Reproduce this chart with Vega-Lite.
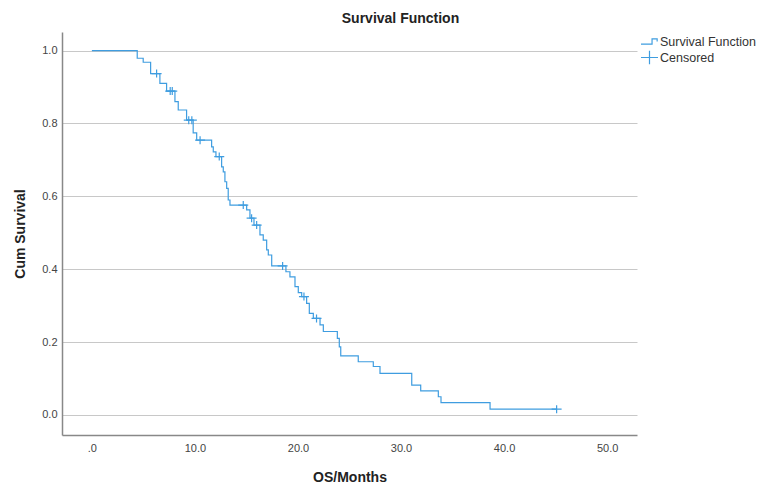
{
  "$schema": "https://vega.github.io/schema/vega-lite/v6.json",
  "width": 575,
  "height": 403,
  "autosize": {"type": "none"},
  "padding": {"left": 62, "top": 32, "right": 128, "bottom": 53},
  "background": "white",
  "config": {"view": {"stroke": null}, "font": "Liberation Sans"},
  "title": {"text": "Survival Function", "fontSize": 14, "fontWeight": "bold", "font": "Liberation Sans", "color": "#222222", "anchor": "middle", "dx": 51, "dy": 15, "offset": 10, "baseline": "alphabetic"},
  "datasets": {
    "curve": [
      {"t": 0, "s": 1.0},
      {"t": 4.40, "s": 0.979},
      {"t": 4.98, "s": 0.968},
      {"t": 5.70, "s": 0.937},
      {"t": 6.60, "s": 0.910},
      {"t": 7.25, "s": 0.889},
      {"t": 8.06, "s": 0.860},
      {"t": 8.38, "s": 0.837},
      {"t": 9.19, "s": 0.809},
      {"t": 9.83, "s": 0.774},
      {"t": 10.17, "s": 0.754},
      {"t": 11.62, "s": 0.736},
      {"t": 11.78, "s": 0.722},
      {"t": 12.04, "s": 0.709},
      {"t": 12.59, "s": 0.681},
      {"t": 12.75, "s": 0.667},
      {"t": 12.91, "s": 0.640},
      {"t": 13.08, "s": 0.622},
      {"t": 13.23, "s": 0.590},
      {"t": 13.40, "s": 0.576},
      {"t": 15.02, "s": 0.563},
      {"t": 15.34, "s": 0.540},
      {"t": 15.73, "s": 0.521},
      {"t": 16.31, "s": 0.494},
      {"t": 16.63, "s": 0.480},
      {"t": 16.96, "s": 0.453},
      {"t": 17.12, "s": 0.439},
      {"t": 17.45, "s": 0.409},
      {"t": 18.83, "s": 0.393},
      {"t": 19.22, "s": 0.379},
      {"t": 19.71, "s": 0.352},
      {"t": 20.03, "s": 0.336},
      {"t": 20.36, "s": 0.325},
      {"t": 20.84, "s": 0.306},
      {"t": 21.10, "s": 0.279},
      {"t": 21.49, "s": 0.265},
      {"t": 22.14, "s": 0.247},
      {"t": 22.46, "s": 0.229},
      {"t": 23.82, "s": 0.210},
      {"t": 24.01, "s": 0.187},
      {"t": 24.15, "s": 0.162},
      {"t": 25.85, "s": 0.146},
      {"t": 27.31, "s": 0.133},
      {"t": 27.96, "s": 0.114},
      {"t": 31.04, "s": 0.082},
      {"t": 31.91, "s": 0.066},
      {"t": 33.62, "s": 0.050},
      {"t": 33.88, "s": 0.034},
      {"t": 38.64, "s": 0.016},
      {"t": 45.10, "s": 0.016}
    ],
    "censored": [
      {"t": 6.28, "s": 0.937, "series": "Censored"},
      {"t": 7.60, "s": 0.889, "series": "Censored"},
      {"t": 7.80, "s": 0.889, "series": "Censored"},
      {"t": 9.40, "s": 0.809, "series": "Censored"},
      {"t": 9.70, "s": 0.809, "series": "Censored"},
      {"t": 10.50, "s": 0.754, "series": "Censored"},
      {"t": 12.36, "s": 0.709, "series": "Censored"},
      {"t": 14.69, "s": 0.576, "series": "Censored"},
      {"t": 15.50, "s": 0.540, "series": "Censored"},
      {"t": 15.99, "s": 0.521, "series": "Censored"},
      {"t": 18.51, "s": 0.409, "series": "Censored"},
      {"t": 20.58, "s": 0.325, "series": "Censored"},
      {"t": 21.80, "s": 0.265, "series": "Censored"},
      {"t": 45.10, "s": 0.016, "series": "Censored"}
    ]
  },
  "layer": [
    {
      "data": {"name": "curve"},
      "mark": {"type": "line", "interpolate": "step-after", "color": "#3f9de0", "strokeWidth": 1.2},
      "encoding": {
        "x": {
          "field": "t", "type": "quantitative",
          "scale": {"domain": [-2.9, 52.9], "nice": false, "zero": false},
          "axis": {
            "values": [0, 10, 20, 30, 40, 50],
            "labelExpr": "datum.value == 0 ? '.0' : format(datum.value, '.1f')",
            "ticks": false, "grid": false,
            "domainColor": "#888888", "domainWidth": 1.5,
            "labelColor": "#444444", "labelFontSize": 11, "labelFont": "Liberation Sans", "labelPadding": 7,
            "title": "OS/Months", "titleFontSize": 14, "titleFontWeight": "bold", "titleColor": "#222222", "titleFont": "Liberation Sans", "titlePadding": 17
          }
        },
        "y": {
          "field": "s", "type": "quantitative",
          "scale": {"domain": [-0.055, 1.051], "nice": false, "zero": false},
          "axis": {
            "values": [0, 0.2, 0.4, 0.6, 0.8, 1.0],
            "format": ".1f",
            "ticks": false, "grid": true, "gridColor": "#c8c8c8", "gridWidth": 1,
            "domainColor": "#888888", "domainWidth": 1.5,
            "labelColor": "#444444", "labelFontSize": 11, "labelFont": "Liberation Sans", "labelPadding": 5,
            "title": "Cum Survival", "titleFontSize": 14, "titleFontWeight": "bold", "titleColor": "#222222", "titleFont": "Liberation Sans", "titlePadding": 14
          }
        }
      }
    },
    {
      "data": {"name": "censored"},
      "mark": {"type": "point", "filled": false, "strokeWidth": 1.2, "size": 100, "color": "#3f9de0", "opacity": 1},
      "encoding": {
        "x": {"field": "t", "type": "quantitative"},
        "y": {"field": "s", "type": "quantitative"},
        "shape": {
          "field": "series", "type": "nominal",
          "scale": {"domain": ["Survival Function", "Censored"], "range": ["M-1,0.3L0.3,0.3L0.3,-0.3L0.9,-0.3L0.9,0", "M-1,0L1,0M0,-0.8L0,0.8"]},
          "legend": {
            "orient": "none", "legendX": 578, "legendY": 0, "title": null,
            "symbolSize": 289, "symbolStrokeColor": "#3f9de0", "symbolFillColor": "transparent", "symbolStrokeWidth": 1.2,
            "labelFontSize": 12.5, "labelColor": "#333333", "labelFont": "Liberation Sans", "rowPadding": 0, "labelOffset": 1
          }
        }
      }
    }
  ]
}
